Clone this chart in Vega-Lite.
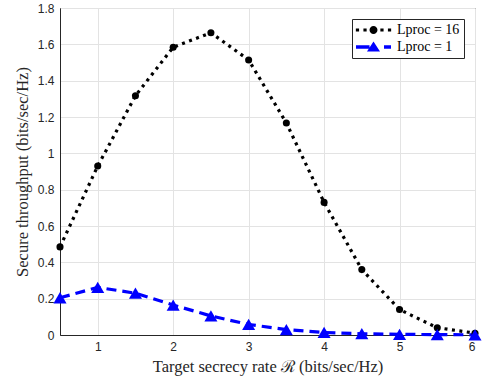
{
  "$schema": "https://vega.github.io/schema/vega-lite/v6.json",
  "width": 415,
  "height": 327,
  "autosize": {"type": "none"},
  "padding": {"left": 60, "top": 8, "right": 7, "bottom": 48},
  "background": "white",
  "config": {
    "view": {"stroke": "#262626", "strokeWidth": 1},
    "axis": {
      "gridColor": "#e3e3e3",
      "gridWidth": 1,
      "domainColor": "#262626",
      "ticks": false,
      "labelFont": "Liberation Sans",
      "labelFontSize": 12,
      "labelColor": "#262626",
      "titleFont": "Liberation Serif",
      "titleFontSize": 16.5,
      "titleFontWeight": "normal",
      "titleColor": "#262626"
    }
  },
  "data": {
    "values": [
      {"x": 0.5, "y": 0.485, "series": "Lproc = 16"},
      {"x": 1.0, "y": 0.93, "series": "Lproc = 16"},
      {"x": 1.5, "y": 1.317, "series": "Lproc = 16"},
      {"x": 2.0, "y": 1.584, "series": "Lproc = 16"},
      {"x": 2.5, "y": 1.664, "series": "Lproc = 16"},
      {"x": 3.0, "y": 1.514, "series": "Lproc = 16"},
      {"x": 3.5, "y": 1.167, "series": "Lproc = 16"},
      {"x": 4.0, "y": 0.73, "series": "Lproc = 16"},
      {"x": 4.5, "y": 0.36, "series": "Lproc = 16"},
      {"x": 5.0, "y": 0.14, "series": "Lproc = 16"},
      {"x": 5.5, "y": 0.04, "series": "Lproc = 16"},
      {"x": 6.0, "y": 0.01, "series": "Lproc = 16"},
      {"x": 0.5, "y": 0.205, "series": "Lproc = 1"},
      {"x": 1.0, "y": 0.262, "series": "Lproc = 1"},
      {"x": 1.5, "y": 0.23, "series": "Lproc = 1"},
      {"x": 2.0, "y": 0.165, "series": "Lproc = 1"},
      {"x": 2.5, "y": 0.105, "series": "Lproc = 1"},
      {"x": 3.0, "y": 0.058, "series": "Lproc = 1"},
      {"x": 3.5, "y": 0.03, "series": "Lproc = 1"},
      {"x": 4.0, "y": 0.014, "series": "Lproc = 1"},
      {"x": 4.5, "y": 0.007, "series": "Lproc = 1"},
      {"x": 5.0, "y": 0.004, "series": "Lproc = 1"},
      {"x": 5.5, "y": 0.002, "series": "Lproc = 1"},
      {"x": 6.0, "y": 0.001, "series": "Lproc = 1"}
    ]
  },
  "encoding": {
    "x": {
      "field": "x", "type": "quantitative",
      "scale": {"domain": [0.5, 6], "nice": false, "zero": false},
      "axis": {"values": [1, 2, 3, 4, 5, 6], "title": "Target secrecy rate ℛ (bits/sec/Hz)", "titlePadding": 6, "labelPadding": 6}
    },
    "y": {
      "field": "y", "type": "quantitative",
      "scale": {"domain": [0, 1.8], "nice": false},
      "axis": {"values": [0, 0.2, 0.4, 0.6, 0.8, 1, 1.2, 1.4, 1.6, 1.8], "format": "~g", "title": "Secure throughput (bits/sec/Hz)", "titlePadding": 7, "labelPadding": 6}
    }
  },
  "layer": [
    {
      "mark": {"type": "line", "strokeWidth": 3.2},
      "encoding": {
        "color": {
          "field": "series", "type": "nominal",
          "scale": {"domain": ["Lproc = 16", "Lproc = 1"], "range": ["#000000", "#0000ff"]},
          "legend": {
            "title": null,
            "orient": "none",
            "legendX": 292,
            "legendY": 11,
            "fillColor": "white",
            "strokeColor": "#262626",
            "padding": 4,
            "labelFont": "Liberation Serif",
            "labelFontSize": 14,
            "labelColor": "#000000",
            "labelOffset": 27,
            "symbolSize": 196,
            "symbolStrokeWidth": 0,
            "rowPadding": 3,
            "encode": {
              "symbols": {
                "update": {
                  "size": {"value": 196},
                  "shape": {"signal": "datum.value === 'Lproc = 16' ? 'M-1.02,-0.23h0.46v0.46h-0.46Z M0.06,-0.23h0.46v0.46h-0.46Z M2.48,-0.23h0.46v0.46h-0.46Z M3.56,-0.23h0.46v0.46h-0.46Z M2.07,0A0.57,0.57 0 1,1 0.93,0A0.57,0.57 0 1,1 2.07,0Z' : 'M-1,-0.25H0.93V0.25H-1Z M3,-0.25H4V0.25H3Z M1.5,-0.79L2.43,0.64L0.57,0.64Z'"},
                  "fill": {"signal": "datum.value === 'Lproc = 16' ? '#000000' : '#0000ff'"},
                  "fillOpacity": {"value": 1},
                  "stroke": {"value": "transparent"},
                  "strokeWidth": {"value": 0}
                }
              }
            }
          }
        },
        "strokeDash": {
          "field": "series", "type": "nominal",
          "scale": {"domain": ["Lproc = 16", "Lproc = 1"], "range": [[3, 4.5], [10, 6]]},
          "legend": null
        }
      }
    },
    {
      "transform": [{"filter": "datum.series === 'Lproc = 16'"}],
      "mark": {"type": "point", "shape": "circle", "filled": true, "opacity": 1, "size": 50, "color": "#000000"},
      "encoding": {}
    },
    {
      "transform": [{"filter": "datum.series === 'Lproc = 1'"}],
      "mark": {"type": "point", "shape": "triangle-up", "filled": true, "opacity": 1, "size": 170, "color": "#0000ff"},
      "encoding": {}
    }
  ]
}
